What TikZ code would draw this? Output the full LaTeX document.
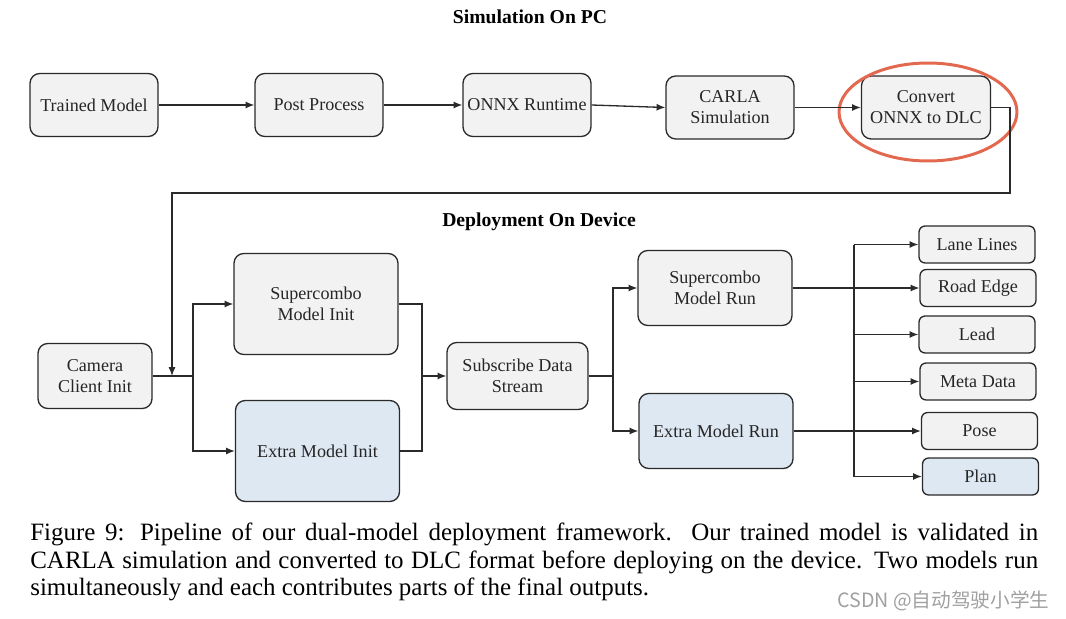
\documentclass[tikz,border=0pt]{standalone}
\usepackage{fontspec}
\setmainfont{Liberation Serif}
\newfontfamily\cjk{Noto Sans CJK SC}
\usepackage{tikz}
\usetikzlibrary{shapes,positioning,calc}
\usetikzlibrary{shapes.geometric, arrows}
\usetikzlibrary{arrows.meta}
\definecolor{boxgrey}{HTML}{F2F2F2}
\definecolor{boxblue}{HTML}{DEE8F3}
\definecolor{ringred}{HTML}{E2694F}
\definecolor{edgegrey}{HTML}{2A2A2A}
\definecolor{markgrey}{HTML}{A0A0A0}
\tikzstyle{stage} = [rectangle, 
rounded corners=5.5pt, minimum width=2.56cm, minimum height=1.26cm, inner sep=0pt, align=center, draw=edgegrey, fill=boxgrey, line width=0.75pt, text=black!85, font=\rmfamily\fontsize{10.3}{12}\selectfont]
\tikzstyle{bigstage} = [stage, minimum width=3.28cm, minimum height=2.02cm]
\tikzstyle{runstage} = [stage, minimum width=3.08cm, minimum height=1.5cm]
\tikzstyle{output} = [stage, rounded corners=3.5pt, minimum width=2.32cm, minimum height=0.74cm]
\tikzstyle{title} = [font=\rmfamily\fontsize{11.2}{13}\selectfont\bfseries]
\tikzstyle{arrow} = [line width=0.75pt, draw=edgegrey, ->, >={Latex[length=5pt,width=4pt]}]
\tikzstyle{line} = [line width=0.75pt, draw=edgegrey]

\begin{document}
\begin{tikzpicture}[x=0.02cm, y=-0.02cm]
\useasboundingbox (0,0) rectangle (1066,619);
% simulation on pc
\node[title] (simtitle) at (530,17) {Simulation On PC};
\node (tm) at (94,105) [stage] {Trained Model};
\node (pp) at (319,105) [stage] {Post Process};
\node (onnx) at (527,105) [stage] {ONNX Runtime};
\node (carla) at (730,107.5) [stage] {CARLA\\Simulation};
\node (conv) at (926,107.5) [stage, minimum width=2.58cm] {Convert\\ONNX to DLC};
\node (ring) at (928,112) [ellipse, draw=ringred, line width=1.7pt, minimum width=3.56cm, minimum height=1.96cm] {};
\draw[arrow] (tm) -- (pp);
\draw[arrow] (pp) -- (onnx);
\draw[arrow] (onnx.east) -- (carla.west);
\draw[arrow] (carla) -- (conv);
% deployment on device
\node[title] (deptitle) at (539,222) {Deployment On Device};
\node (cam) at (95,376) [stage, minimum width=2.28cm, minimum height=1.3cm] {Camera\\Client Init};
\node (sinit) at (316,304) [bigstage] {Supercombo\\Model Init};
\node (einit) at (317.5,451) [bigstage, fill=boxblue] {Extra Model Init};
\node (sub) at (517.5,376) [stage, minimum width=2.82cm, minimum height=1.34cm] {Subscribe Data\\Stream};
\node (srun) at (715,288) [runstage] {Supercombo\\Model Run};
\node (erun) at (716,431) [runstage, fill=boxblue] {Extra Model Run};
\node (lane) at (977,244.5) [output] {Lane Lines};
\node (road) at (978,288) [output] {Road Edge};
\node (lead) at (977,334.5) [output] {Lead};
\node (meta) at (978,381.5) [output] {Meta Data};
\node (pose) at (979.5,431) [output] {Pose};
\node (plan) at (980.5,476.5) [output, fill=boxblue] {Plan};
\coordinate (turn) at (1010,193);
\coordinate (drop) at (172,376);
\coordinate (split) at (193,376);
\coordinate (merge) at (422,376);
\coordinate (fork) at (613,376);
\coordinate (bus) at (854,0);
\draw[arrow] (conv.east) -| (turn) -- (turn -| drop) -- (drop);
\draw[line] (cam) -- (split);
\draw[arrow] (split) |- (sinit);
\draw[arrow] (split) |- (einit);
\draw[line] (sinit.east) -| (merge);
\draw[line] (einit.east) -| (merge);
\draw[arrow] (merge) -- (sub);
\draw[line] (sub) -- (fork);
\draw[arrow] (fork) |- (srun);
\draw[arrow] (fork) |- (erun);
\draw[line] (bus |- lane) -- (bus |- plan);
\draw[arrow] (bus |- lane) -- (lane);
\draw[arrow] (bus |- lead) -- (lead);
\draw[arrow] (bus |- meta) -- (meta);
\draw[arrow] (bus |- plan) -- (plan);
\draw[arrow] (srun) -- (road);
\draw[arrow] (erun) -- (pose);
% caption
\node[anchor=base west, inner sep=0pt, font=\fontsize{14.2}{15.6}\selectfont] (cap1) at (30,540) {\makebox[20.16cm][s]{Figure 9: Pipeline of our dual-model deployment framework.\ \ Our trained model is validated in}};
\node[anchor=base west, inner sep=0pt, font=\fontsize{14.2}{15.6}\selectfont] (cap2) at (30,568) {\makebox[20.16cm][s]{CARLA simulation and converted to DLC format before deploying on the device. Two models run}};
\node[anchor=base west, inner sep=0pt, font=\fontsize{14.2}{15.6}\selectfont] (cap3) at (30,595) {simultaneously and each contributes parts of the final outputs.};
\node[anchor=east, inner sep=0pt, text=markgrey, font=\cjk\fontsize{11.2}{13}\selectfont] (mark) at (1050,601) {CSDN @自动驾驶小学生};
\end{tikzpicture}
\end{document}
